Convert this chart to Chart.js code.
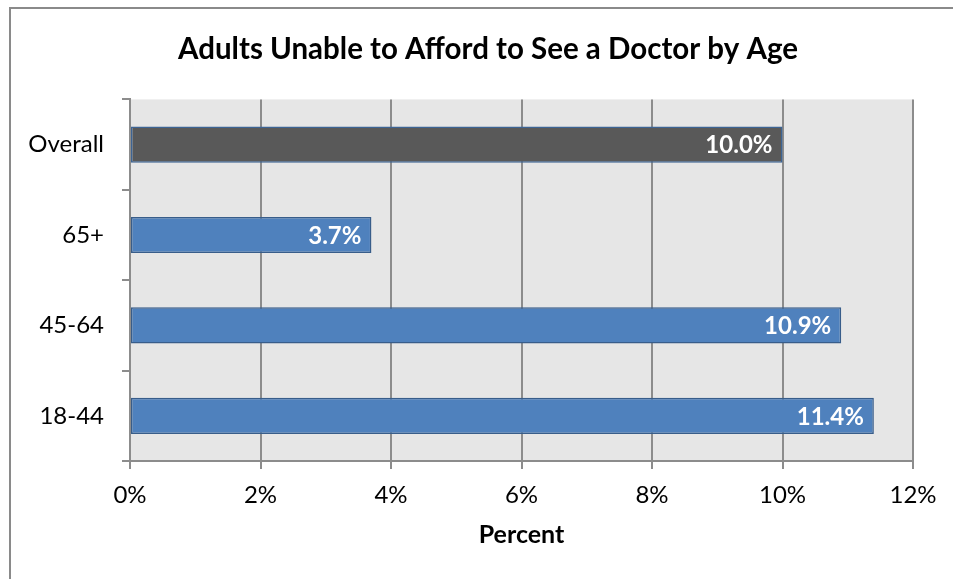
<!DOCTYPE html>
<html>
<head>
<meta charset="utf-8">
<script src="https://cdn.jsdelivr.net/npm/chart.js@4/dist/chart.umd.min.js"></script>
<style>
  html, body { margin: 0; padding: 0; background: #fff; }
  #wrap { width: 953px; height: 579px; position: relative; }
</style>
</head>
<body>
<div id="wrap"><canvas id="myChart" width="953" height="579"></canvas></div>
<script>
'use strict';
let ageGroups = ['Overall', '65+', '45-64', '18-44'];
let unableToAfford = [10.0, 3.7, 10.9, 11.4];
let xTicks = [0, 2, 4, 6, 8, 10, 12];
let chartTitle = 'Adults Unable to Afford to See a Doctor by Age';
let xTitle = 'Percent';

let fontName = 'Lato, "Open Sans", sans-serif';
let gridGray = '#8c8c8c';

let barColors = ageGroups.map(function (g) { return g === 'Overall' ? '#595959' : '#4f81bd'; });
let barBorders = ageGroups.map(function (g) { return g === 'Overall' ? '#3d6494' : '#385d8a'; });

// white page, outer frame and grey plot area
let backPlugin = {
  id: 'backPlugin',
  afterLayout: function (chart) {
    // title in the original sits a bit right of the page centre
    if (chart.titleBlock) chart.titleBlock.left += 39;
  },
  beforeDraw: function (chart) {
    let ctx = chart.ctx;
    let a = chart.chartArea;
    ctx.save();
    ctx.fillStyle = '#ffffff';
    ctx.fillRect(0, 0, chart.width, chart.height);
    ctx.strokeStyle = '#8a8a8a';
    ctx.lineWidth = 2;
    ctx.strokeRect(10, 8, chart.width + 20, chart.height + 20);
    ctx.fillStyle = '#e6e6e6';
    ctx.fillRect(a.left, a.top, a.right - a.left, a.bottom - a.top);
    ctx.restore();
  }
};

// white value labels at the inside end of each bar
let labelPlugin = {
  id: 'labelPlugin',
  afterDatasetsDraw: function (chart) {
    let ctx = chart.ctx;
    let meta = chart.getDatasetMeta(0);
    ctx.save();
    ctx.fillStyle = '#ffffff';
    ctx.font = 'bold 24px ' + fontName;
    ctx.textAlign = 'right';
    ctx.textBaseline = 'middle';
    meta.data.forEach(function (bar, i) {
      ctx.fillText(unableToAfford[i].toFixed(1) + '%', bar.x - 10, bar.y + 1);
    });
    ctx.restore();
  }
};

let ctx = document.getElementById('myChart').getContext('2d');
let chart = new Chart(ctx, {
  type: 'bar',
  data: {
    labels: ageGroups,
    datasets: [{
      label: xTitle,
      data: unableToAfford,
      backgroundColor: barColors,
      borderColor: barBorders,
      borderWidth: 1.5,
      borderSkipped: false,
      barPercentage: 0.4,
      categoryPercentage: 1.0
    }]
  },
  options: {
    indexAxis: 'y',
    responsive: false,
    animation: false,
    layout: { padding: { left: 24, right: 40, top: 0, bottom: 0 } },
    plugins: {
      legend: { display: false },
      tooltip: { enabled: false },
      title: {
        display: true,
        text: chartTitle,
        color: '#000000',
        font: { family: fontName, size: 29.5, weight: 'bold', lineHeight: 1.2 },
        padding: { top: 32, bottom: 32 }
      }
    },
    scales: {
      x: {
        min: 0,
        max: 12,
        afterBuildTicks: function (scale) {
          scale.ticks = xTicks.map(function (v) { return { value: v }; });
        },
        afterFit: function (scale) { scale.height = 118; },
        grid: { color: gridGray, lineWidth: 2, tickLength: 8, drawOnChartArea: true },
        border: { color: gridGray, width: 2 },
        ticks: {
          color: '#000000',
          padding: 12,
          font: { family: fontName, size: 24 },
          callback: function (v) { return v + '%'; }
        },
        title: {
          display: true,
          text: xTitle,
          color: '#000000',
          font: { family: fontName, size: 25, weight: 'bold', lineHeight: 1.2 },
          padding: { top: 0, bottom: 29 }
        }
      },
      y: {
        afterFit: function (scale) { scale.width = 106; },
        grid: { offset: true, drawOnChartArea: false, tickLength: 8, color: gridGray, lineWidth: 2 },
        border: { color: gridGray, width: 2 },
        ticks: {
          color: '#000000',
          padding: 18,
          font: { family: fontName, size: 24 }
        }
      }
    }
  },
  plugins: [backPlugin, labelPlugin]
});
</script>
</body>
</html>
